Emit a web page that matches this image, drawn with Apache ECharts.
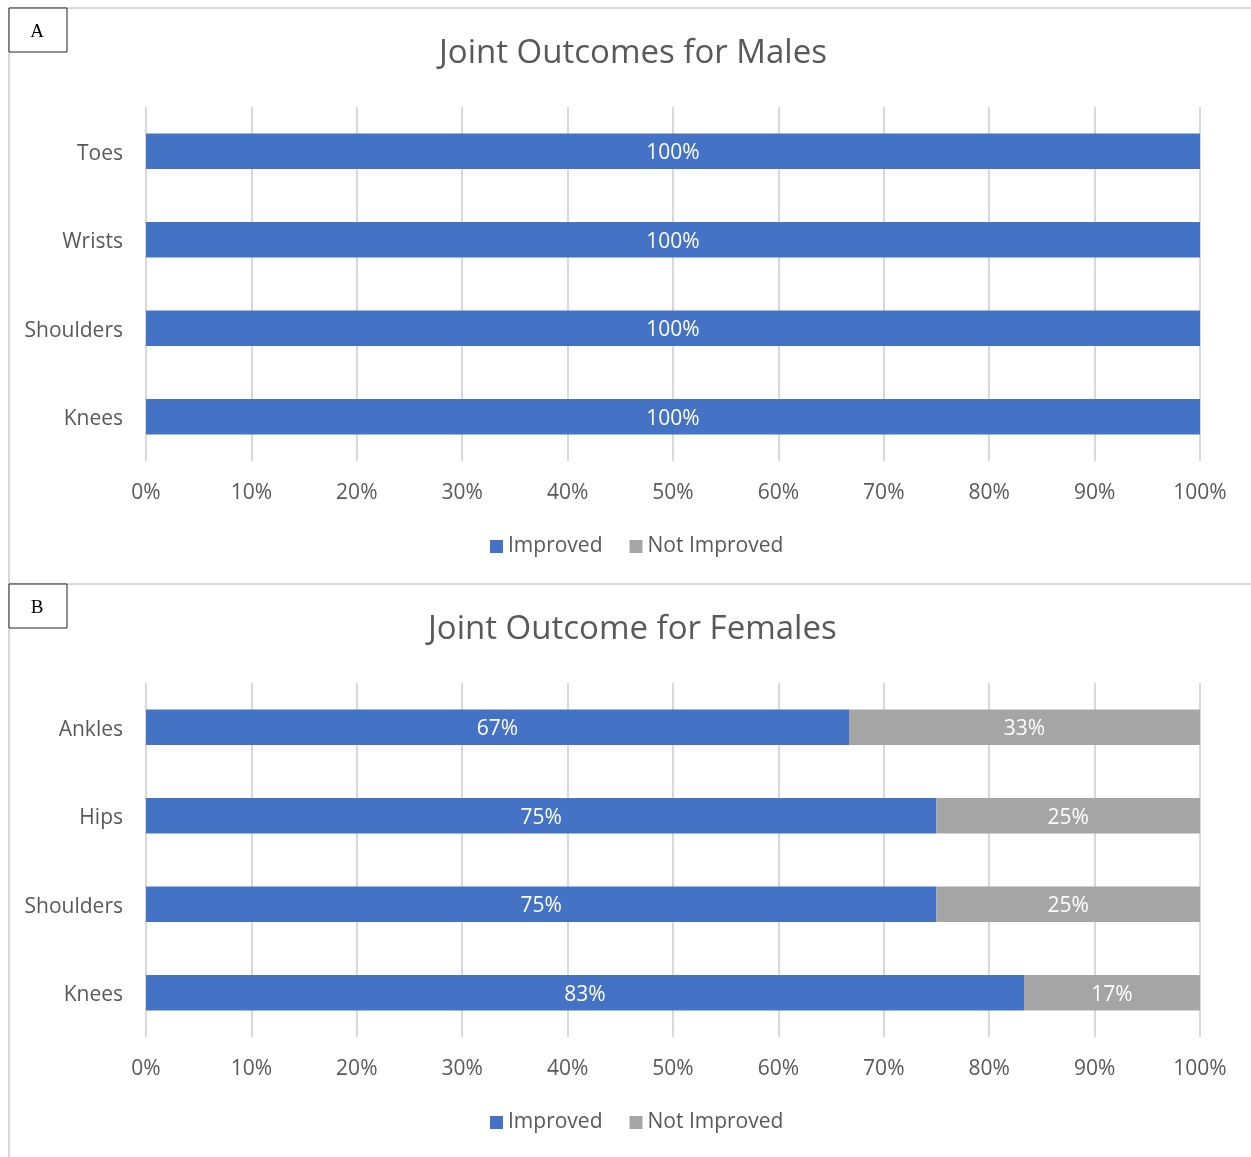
<!DOCTYPE html>
<html><head><meta charset="utf-8">
<script src="https://cdn.jsdelivr.net/npm/echarts@6/dist/echarts.min.js"></script>
<style>html,body{margin:0;padding:0;background:#fff}#c{width:1251px;height:1157px}</style>
</head><body><div id="c"></div>
<script>
const maleCategories = ['Knees', 'Shoulders', 'Wrists', 'Toes'];
const maleImproved = [100, 100, 100, 100];
const maleNotImproved = [0, 0, 0, 0];
const femaleCategories = ['Knees', 'Shoulders', 'Hips', 'Ankles'];
const femaleImproved = [83.3, 75, 75, 66.7];
const femaleNotImproved = [16.7, 25, 25, 33.3];
const tickLabels = ['0%','10%','20%','30%','40%','50%','60%','70%','80%','90%','100%'];

const FONT = '"Open Sans", sans-serif';
const TXT = '#595959';
const BLUE = '#4472c4', GREY = '#a5a5a5';

const chart = echarts.init(document.getElementById('c'), null, {renderer: 'canvas'});
const lbl = {show: true, position: 'inside', color: '#fff', fontSize: 21, fontFamily: FONT, offset: [0, 2],
  formatter: p => p.value > 0 ? Math.round(p.value) + '%' : ''};

function xAxis(gi) {
  return {gridIndex: gi, type: 'value', min: 0, max: 100, interval: 10,
    axisLine: {show: false}, axisTick: {show: false},
    splitLine: {show: true, lineStyle: {color: '#d9d9d9', width: 2}},
    axisLabel: {color: TXT, fontSize: 21, fontFamily: FONT, margin: 22,
      formatter: v => tickLabels[Math.round(v / 10)]}};
}
function yAxis(gi, cats) {
  return {gridIndex: gi, type: 'category', data: cats,
    axisLine: {show: false}, axisTick: {show: false},
    axisLabel: {color: TXT, fontSize: 21, fontFamily: FONT, margin: 23, lineHeight: 25, verticalAlign: 'top', padding: [-10, 0, 0, 0]}};
}
function legend(top) {
  return {top: top, left: 490, itemWidth: 13, itemHeight: 13, itemGap: 27, icon: 'rect', padding: 0,
    textStyle: {color: TXT, fontSize: 21, fontFamily: FONT},
    data: ['Improved', 'Not Improved'], selectedMode: false};
}
function bars(gi, imp, notImp) {
  return [
    {name: 'Improved', type: 'bar', stack: 's' + gi, xAxisIndex: gi, yAxisIndex: gi, data: imp,
      barWidth: '40%', itemStyle: {color: BLUE}, label: lbl},
    {name: 'Not Improved', type: 'bar', stack: 's' + gi, xAxisIndex: gi, yAxisIndex: gi, data: notImp,
      barWidth: '40%', itemStyle: {color: GREY}, label: lbl}
  ];
}

function box(x, y, letter) {
  return [
    {type: 'rect', shape: {x: x, y: y, width: 58, height: 44}, style: {fill: '#fff', stroke: '#222', lineWidth: 1}, z: 100},
    {type: 'text', x: x + 28, y: y + 24, style: {text: letter, fill: '#000', font: '19px "Liberation Serif", serif', textAlign: 'center', textVerticalAlign: 'middle'}, z: 101}
  ];
}

chart.setOption({
  animation: false,
  title: [
    {text: 'Joint Outcomes for Males', left: 439, top: 37, padding: 0, textStyle: {color: TXT, fontSize: 33, fontWeight: 'normal', fontFamily: FONT}},
    {text: 'Joint Outcome for Females', left: 428, top: 613, padding: 0, textStyle: {color: TXT, fontSize: 33, fontWeight: 'normal', fontFamily: FONT}}
  ],
  legend: [legend(536), legend(1112)],
  grid: [
    {left: 146, width: 1054, top: 107, height: 354},
    {left: 146, width: 1054, top: 683, height: 354}
  ],
  xAxis: [xAxis(0), xAxis(1)],
  yAxis: [yAxis(0, maleCategories), yAxis(1, femaleCategories)],
  series: [...bars(0, maleImproved, maleNotImproved), ...bars(1, femaleImproved, femaleNotImproved)],
  graphic: [
    {type: 'line', shape: {x1: 9, y1: 8, x2: 1251, y2: 8}, style: {stroke: '#d9d9d9', lineWidth: 2}},
    {type: 'line', shape: {x1: 9, y1: 8, x2: 9, y2: 1157}, style: {stroke: '#d9d9d9', lineWidth: 2}},
    {type: 'line', shape: {x1: 9, y1: 584, x2: 1251, y2: 584}, style: {stroke: '#d9d9d9', lineWidth: 2}},
    ...box(9, 8, 'A'), ...box(9, 584, 'B')
  ]
});
</script></body></html>
